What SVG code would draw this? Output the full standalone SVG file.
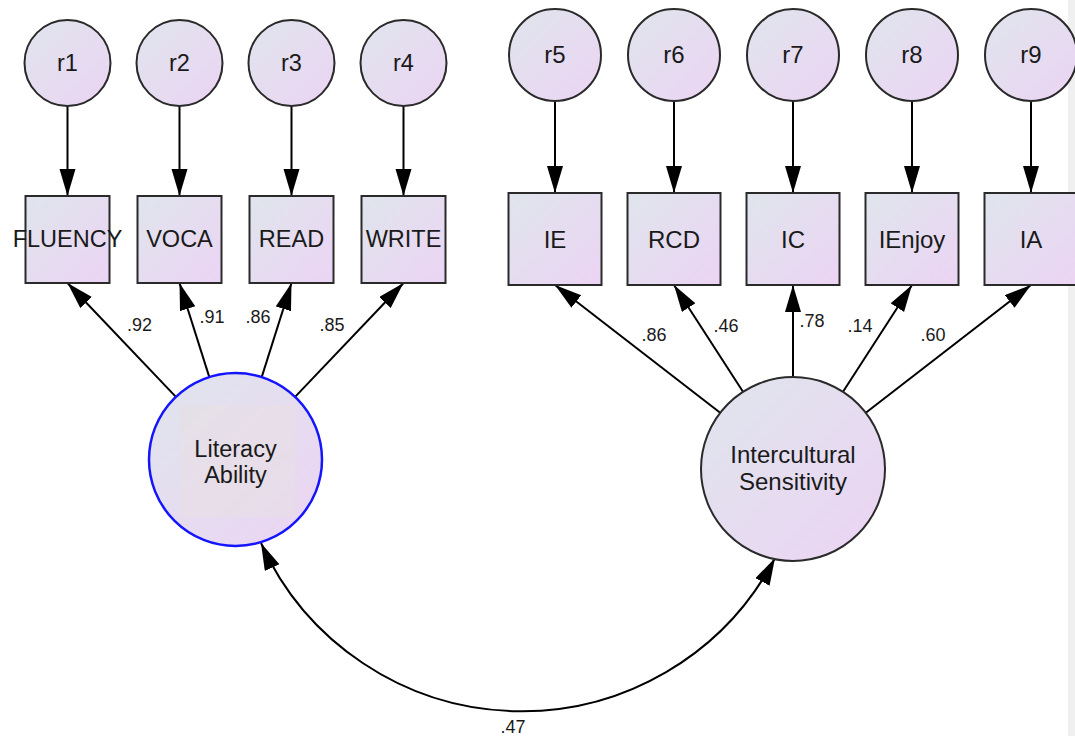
<svg xmlns="http://www.w3.org/2000/svg" width="1075" height="736" viewBox="0 0 1075 736">
<defs>
<linearGradient id="g" x1="0" y1="0" x2="1" y2="1">
<stop offset="0" stop-color="#dfe5ec"/>
<stop offset="1" stop-color="#ecd4f4"/>
</linearGradient>
<marker id="ah" markerUnits="userSpaceOnUse" markerWidth="28" markerHeight="18" refX="27" refY="8" orient="auto-start-reverse" viewBox="0 0 28 18">
<path d="M0,0 L27,8 L0,16 z" fill="#000"/>
</marker>
</defs>
<style>
.n{fill:url(#g);stroke:#2a2a2a;stroke-width:2}
.lat{fill:url(#g);stroke:#1414ff;stroke-width:2.5}
.t{font-family:"Liberation Sans",Arial,sans-serif;fill:#1a1a1a;text-anchor:middle}
.s{font-size:23.5px}
.b{font-size:24px}
.c{font-size:18px}
.e line,.e path{stroke:#000;stroke-width:2;fill:none;marker-end:url(#ah)}
</style>
<rect x="0" y="0" width="1075" height="736" fill="#ffffff"/>
<rect x="1068" y="0" width="7" height="736" fill="#f0f0f0"/>

<g id="connectors" class="e">
<line x1="67.5" y1="106" x2="67.5" y2="196"/>
<line x1="179.5" y1="106" x2="179.5" y2="196"/>
<line x1="291.5" y1="106" x2="291.5" y2="196"/>
<line x1="403.5" y1="106" x2="403.5" y2="196"/>
<line x1="555" y1="101" x2="555" y2="193"/>
<line x1="674" y1="101" x2="674" y2="193"/>
<line x1="793" y1="101" x2="793" y2="193"/>
<line x1="912" y1="101" x2="912" y2="193"/>
<line x1="1031" y1="101" x2="1031" y2="193"/>
<line x1="175.9" y1="396.9" x2="67.5" y2="283"/>
<line x1="209.3" y1="377.1" x2="179.5" y2="283"/>
<line x1="261.7" y1="377.1" x2="291.5" y2="283"/>
<line x1="295.1" y1="396.9" x2="403.5" y2="283"/>
<line x1="720.2" y1="412.7" x2="555" y2="285"/>
<line x1="743" y1="391.7" x2="674" y2="285"/>
<line x1="793" y1="377" x2="793" y2="285"/>
<line x1="843" y1="391.7" x2="912" y2="285"/>
<line x1="865.8" y1="412.7" x2="1031" y2="285"/>
<path d="M261,543 A286,286 0 0 0 775,558" style="marker-start:url(#ah)"/>
</g>

<g id="labels" class="t c">
<text x="139.5" y="331">.92</text>
<text x="212" y="323">.91</text>
<text x="258" y="323">.86</text>
<text x="332" y="331">.85</text>
<text x="654" y="341">.86</text>
<text x="726" y="332">.46</text>
<text x="812" y="327">.78</text>
<text x="860" y="332">.14</text>
<text x="933" y="341">.60</text>
<text x="513" y="733">.47</text>
</g>

<g id="r1"><circle class="n" cx="67.5" cy="63" r="43"/><text class="t s" x="67.5" y="71">r1</text></g>
<g id="r2"><circle class="n" cx="179.5" cy="63" r="43"/><text class="t s" x="179.5" y="71">r2</text></g>
<g id="r3"><circle class="n" cx="291.5" cy="63" r="43"/><text class="t s" x="291.5" y="71">r3</text></g>
<g id="r4"><circle class="n" cx="403.5" cy="63" r="43"/><text class="t s" x="403.5" y="71">r4</text></g>
<g id="r5"><circle class="n" cx="555" cy="55" r="46"/><text class="t b" x="555" y="63">r5</text></g>
<g id="r6"><circle class="n" cx="674" cy="55" r="46"/><text class="t b" x="674" y="63">r6</text></g>
<g id="r7"><circle class="n" cx="793" cy="55" r="46"/><text class="t b" x="793" y="63">r7</text></g>
<g id="r8"><circle class="n" cx="912" cy="55" r="46"/><text class="t b" x="912" y="63">r8</text></g>
<g id="r9"><circle class="n" cx="1031" cy="55" r="46"/><text class="t b" x="1031" y="63">r9</text></g>

<g id="FLUENCY"><rect class="n" x="25.5" y="196" width="84" height="87"/><text class="t s" x="67.5" y="247">FLUENCY</text></g>
<g id="VOCA"><rect class="n" x="137.5" y="196" width="84" height="87"/><text class="t s" x="179.5" y="247">VOCA</text></g>
<g id="READ"><rect class="n" x="249.5" y="196" width="84" height="87"/><text class="t s" x="291.5" y="247">READ</text></g>
<g id="WRITE"><rect class="n" x="361.5" y="196" width="84" height="87"/><text class="t s" x="403.5" y="247">WRITE</text></g>
<g id="IE"><rect class="n" x="508.5" y="193" width="93" height="92"/><text class="t b" x="555" y="248">IE</text></g>
<g id="RCD"><rect class="n" x="627.5" y="193" width="93" height="92"/><text class="t b" x="674" y="248">RCD</text></g>
<g id="IC"><rect class="n" x="746.5" y="193" width="93" height="92"/><text class="t b" x="793" y="248">IC</text></g>
<g id="IEnjoy"><rect class="n" x="865.5" y="193" width="93" height="92"/><text class="t b" x="912" y="248">IEnjoy</text></g>
<g id="IA"><rect class="n" x="984.5" y="193" width="93" height="92"/><text class="t b" x="1031" y="248">IA</text></g>

<g id="LiteracyAbility">
<circle class="lat" cx="235.5" cy="459.5" r="86.5"/>
<rect x="180" y="405" width="115" height="112" fill="#e7e0e4" opacity="0.6"/>
<text class="t s" x="235.5" y="457">Literacy</text>
<text class="t s" x="235.5" y="483">Ability</text>
</g>
<g id="InterculturalSensitivity">
<circle class="n" cx="793" cy="469" r="92"/>
<text class="t b" x="793" y="463">Intercultural</text>
<text class="t b" x="793" y="490">Sensitivity</text>
</g>
</svg>
